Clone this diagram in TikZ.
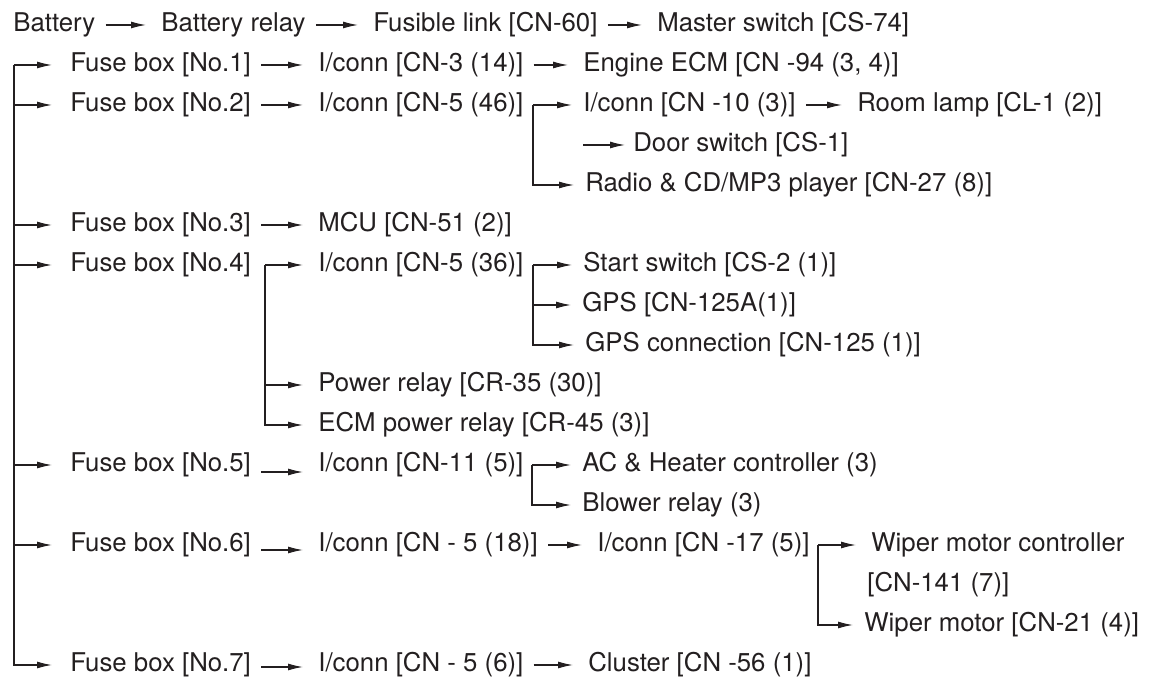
\documentclass[tikz,border=0pt]{standalone}
\usepackage{fontspec}
\setmainfont{TeX Gyre Heros}
\usetikzlibrary{arrows.meta}
\definecolor{ink}{HTML}{231F20}

\begin{document}
\begin{tikzpicture}[
  txt/.style={inner sep=0pt, anchor=west, text=ink, font=\fontsize{14.68}{17}\selectfont, text height=10.7pt, text depth=3.1pt},
  wire/.style={draw=ink, line width=0.7pt, -{Latex[length=3mm,width=1.4mm]}},
  link/.style={wire, shorten <=0.2cm, shorten >=0.3cm},
  feed/.style={wire, shorten >=0.36cm},
  branch/.style={wire, shorten >=0.22cm}]
\useasboundingbox (0,0) rectangle (22.98,-13.58);
%\draw[step=0.8cm,gray,very thin] (0,0) grid (22.98,-13.58); %background grid
\node[txt] (bat) at (0.26,-0.5) {Battery};
\node[txt] (brelay) at (3.22,-0.5) {Battery relay};
\node[txt] (flink) at (7.46,-0.5) {Fusible link [CN-60]};
\node[txt] (mswitch) at (13.14,-0.5) {Master switch [CS-74]};
\draw[link] (bat.east) -- (brelay.west);
\draw[link] (brelay.east) -- (flink.west);
\draw[link] (flink.east) -- (mswitch.west);

\node[txt] (fb1) at (1.40,-1.3) {Fuse box [No.1]};
\node[txt] (fb2) at (1.40,-2.1) {Fuse box [No.2]};
\node[txt] (fb3) at (1.40,-4.5) {Fuse box [No.3]};
\node[txt] (fb4) at (1.40,-5.3) {Fuse box [No.4]};
\node[txt] (fb5) at (1.40,-9.3) {Fuse box [No.5]};
\node[txt] (fb6) at (1.40,-10.9) {Fuse box [No.6]};
\node[txt] (fb7) at (1.40,-13.3) {Fuse box [No.7]};
\coordinate (trunk) at (0.28,-1.3);
\draw[feed] (trunk) -- (fb1.west);
\draw[feed] (trunk) |- (fb7.west);
\draw[feed] (trunk |- fb2.west) -- (fb2.west);
\draw[feed] (trunk |- fb3.west) -- (fb3.west);
\draw[feed] (trunk |- fb4.west) -- (fb4.west);
\draw[feed] (trunk |- fb5.west) -- (fb5.west);
\draw[feed] (trunk |- fb6.west) -- (fb6.west);

% No.1
\node[txt] (ic3) at (6.36,-1.3) {I/conn [CN-3 (14)]};
\node[txt] (ecm) at (11.66,-1.3) {Engine ECM [CN -94 (3, 4)]};
\draw[link] (fb1.east) -- (ic3.west);
\draw[link] (ic3.east) -- (ecm.west);

% No.2
\node[txt] (ic5a) at (6.36,-2.1) {I/conn [CN-5 (46)]};
\node[txt] (ic10) at (11.66,-2.1) {I/conn [CN -10 (3)]};
\node[txt] (lamp) at (17.14,-2.1) {Room lamp [CL-1 (2)]};
\node[txt] (door) at (12.66,-2.9) {Door switch [CS-1]};
\node[txt] (radio) at (11.70,-3.7) {Radio \& CD/MP3 player [CN-27 (8)]};
\coordinate (br2) at (10.66,-2.1);
\draw[link] (fb2.east) -- (ic5a.west);
\draw[branch] (br2) -- (ic10.west);
\draw[branch] (br2) |- (radio.west);
\draw[link] (ic10.east) -- (lamp.west);
\draw[wire, shorten >=0.16cm] (ic10.west |- door.west) -- (door.west);

% No.3
\node[txt] (mcu) at (6.36,-4.5) {MCU [CN-51 (2)]};
\draw[link] (fb3.east) -- (mcu.west);

% No.4
\node[txt] (ic5b) at (6.36,-5.3) {I/conn [CN-5 (36)]};
\node[txt] (start) at (11.66,-5.3) {Start switch [CS-2 (1)]};
\node[txt] (gps) at (11.64,-6.1) {GPS [CN-125A(1)]};
\node[txt] (gpsc) at (11.70,-6.9) {GPS connection [CN-125 (1)]};
\node[txt] (prelay) at (6.36,-7.7) {Power relay [CR-35 (30)]};
\node[txt] (ecmrelay) at (6.36,-8.5) {ECM power relay [CR-45 (3)]};
\coordinate (br4) at (5.30,-5.3);
\coordinate (br6) at (10.66,-5.3);
\draw[branch, shorten >=0.3cm] (br4) -- (ic5b.west);
\draw[branch, shorten >=0.3cm] (br4 |- prelay.west) -- (prelay.west);
\draw[branch, shorten >=0.3cm] (br4) |- (ecmrelay.west);
\draw[branch] (br6) -- (start.west);
\draw[branch] (br6 |- gps.west) -- (gps.west);
\draw[branch] (br6) |- (gpsc.west);

% No.5
\node[txt] (ic11) at (6.36,-9.3) {I/conn [CN-11 (5)]};
\node[txt] (heater) at (11.64,-9.3) {AC \& Heater controller (3)};
\node[txt] (blower) at (11.64,-10.1) {Blower relay (3)};
\coordinate (br11) at (10.64,-9.3);
\draw[link] ([yshift=-0.14cm]fb5.east) -- ([yshift=-0.14cm]ic11.west);
\draw[branch] (br11) -- (heater.west);
\draw[branch] (br11) |- (blower.west);

% No.6
\node[txt] (ic5c) at (6.36,-10.9) {I/conn [CN - 5 (18)]};
\node[txt] (ic17) at (11.94,-10.9) {I/conn [CN -17 (5)]};
\node[txt] (wctrl) at (17.42,-10.9) {Wiper motor controller};
\node[txt] (wcn) at (17.34,-11.7) {[CN-141 (7)]};
\node[txt] (wmotor) at (17.28,-12.5) {Wiper motor [CN-21 (4)]};
\coordinate (br13) at (16.36,-10.9);
\draw[link] ([yshift=-0.1cm]fb6.east) -- ([yshift=-0.1cm]ic5c.west);
\draw[link] (ic5c.east) -- (ic17.west);
\draw[branch, shorten >=0.3cm] (br13) -- (wctrl.west);
\draw[branch] (br13) |- (wmotor.west);

% No.7
\node[txt] (ic5d) at (6.36,-13.3) {I/conn [CN - 5 (6)]};
\node[txt] (cl) at (11.76,-13.3) {Cluster [CN -56 (1)]};
\draw[link] ([yshift=-0.04cm]fb7.east) -- ([yshift=-0.04cm]ic5d.west);
\draw[link] (ic5d.east) -- (cl.west);
\end{tikzpicture}
\end{document}
